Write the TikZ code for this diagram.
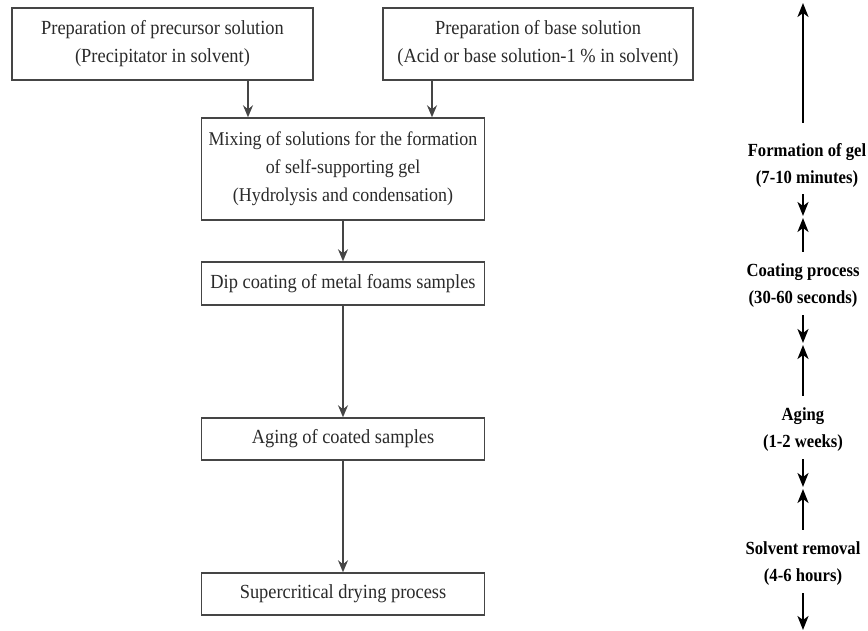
\documentclass[tikz,border=0pt]{standalone}
\usepackage{fontspec}
\setmainfont[FakeStretch=0.92]{Liberation Serif}
\newfontfamily\labfont[FakeStretch=0.9]{Liberation Serif}
\usetikzlibrary{arrows.meta}
\definecolor{boxgray}{HTML}{454545}
\definecolor{txtgray}{HTML}{2A2A2A}
\begin{document}
\begin{tikzpicture}[x=1pt,y=-1pt,
  box/.style={draw=boxgray, line width=1.5pt, fill=white, align=center, text=txtgray,
    font=\fontsize{20}{28}\selectfont, inner sep=0pt},
  arr/.style={-{Stealth[length=12pt,width=10pt,inset=4pt]}, line width=1.5pt, draw=boxgray},
  barr/.style={-{Stealth[length=14pt,width=11pt,inset=4pt]}, line width=2.2pt, draw=black},
  lab/.style={font=\labfont\bfseries\fontsize{18.5}{27}\selectfont, align=center, inner sep=0pt, text=black}]
\useasboundingbox (0,0) rectangle (868,631);

% left flow chart
\node[box, minimum width=301pt, minimum height=72pt] (b1) at (162.5,44)
  {Preparation of precursor solution\\(Precipitator in solvent)};
\node[box, minimum width=310pt, minimum height=72pt] (b2) at (538,44)
  {Preparation of base solution\\(Acid or base solution-1 \% in solvent)};
\node[box, minimum width=283pt, minimum height=102pt, font=\fontsize{19.5}{28}\selectfont] (mix) at (343,169)
  {Mixing of solutions for the formation\\of self-supporting gel\\(Hydrolysis and condensation)};
\node[box, minimum width=283pt, minimum height=43pt] (dip) at (343,283.5)
  {Dip coating of metal foams samples};
\node[box, minimum width=283pt, minimum height=42pt] (age) at (343,439)
  {Aging of coated samples};
\node[box, minimum width=283pt, minimum height=42pt] (sup) at (343,594)
  {Supercritical drying process};

\draw[arr] ([xshift=85.5pt]b1.south) -- ([xshift=85.5pt]b1.south |- mix.north);
\draw[arr] ([xshift=-106pt]b2.south) -- ([xshift=-106pt]b2.south |- mix.north);
\draw[arr] (mix) -- (dip);
\draw[arr] (dip) -- (age);
\draw[arr] (age) -- (sup);

% right time line
\node[lab] (t1) at (807,165) {Formation of gel\\(7-10 minutes)};
\node[lab] (t2) at (803,286) {Coating process\\(30-60 seconds)};
\node[lab] (t3) at (803,430) {Aging\\(1-2 weeks)};
\node[lab] (t4) at (803,564) {Solvent removal\\(4-6 hours)};

\coordinate (top) at (803,3);
\coordinate (m1) at (803,217);
\coordinate (m2) at (803,344);
\coordinate (m3) at (803,488);
\coordinate (bot) at (803,630);

\draw[barr] (t1.north -| top) ++(0,-20) -- (top);
\draw[barr, shorten <=7pt] (t1.south -| top) -- ([yshift=1pt]m1);
\draw[barr, shorten <=12pt] (t2.north -| top) -- ([yshift=-1pt]m1);
\draw[barr, shorten <=7pt] (t2.south -| top) -- ([yshift=1pt]m2);
\draw[barr, shorten <=12pt] (t3.north -| top) -- ([yshift=-1pt]m2);
\draw[barr, shorten <=7pt] (t3.south -| top) -- ([yshift=1pt]m3);
\draw[barr, shorten <=12pt] (t4.north -| top) -- ([yshift=-1pt]m3);
\draw[barr, shorten <=7pt] (t4.south -| top) -- (bot);
\end{tikzpicture}
\end{document}
